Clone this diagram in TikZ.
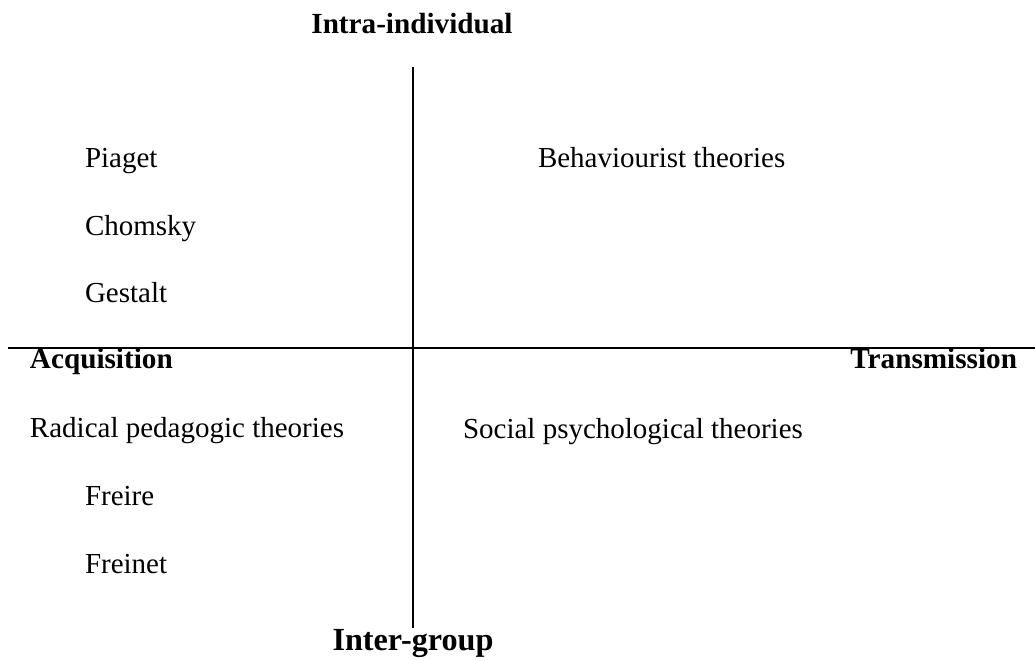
\documentclass[tikz,border=0pt]{standalone}
\usepackage{fontspec}
\setmainfont{Liberation Serif}
\usepackage{tikz}
\usetikzlibrary{positioning}

\begin{document}
\begin{tikzpicture}[
    x=0.5pt, y=-0.5pt,
    every node/.style={inner sep=0pt, outer sep=0pt},
    item/.style={anchor=base west, font=\fontsize{14.5}{17}\selectfont},
    pole/.style={font=\fontsize{14.6}{17}\selectfont\bfseries},
    axis/.style={line width=0.8pt, black}
]
\useasboundingbox (0,0) rectangle (1035,660);

% Axis ends
\coordinate (top) at (413,67);
\coordinate (bottom) at (413,628);
\coordinate (left) at (8,348);
\coordinate (right) at (1035,348);

% Axes
\draw[axis] (top) -- (bottom);
\draw[axis] (left) -- (right);

% Poles
\node[pole, anchor=base] (intra) at (412,33) {Intra-individual};
\node[pole, anchor=base, font=\fontsize{16.1}{19}\selectfont\bfseries] (inter) at (413,650) {Inter-group};
\node[pole, anchor=base west] (acq) at (30,368) {Acquisition};
\node[pole, anchor=base east] (trans) at (1017,368) {Transmission};

% Upper left
\node[item] (piaget) at (85,167) {Piaget};
\node[item] (chomsky) at (85,235) {Chomsky};
\node[item] (gestalt) at (85,302) {Gestalt};

% Upper right
\node[item] (behav) at (538,167) {Behaviourist theories};

% Lower left
\node[item] (radical) at (30,437) {Radical pedagogic theories};
\node[item] (freire) at (85,505) {Freire};
\node[item] (freinet) at (85,573) {Freinet};

% Lower right
\node[item] (social) at (463,438) {Social psychological theories};

\end{tikzpicture}
\end{document}
